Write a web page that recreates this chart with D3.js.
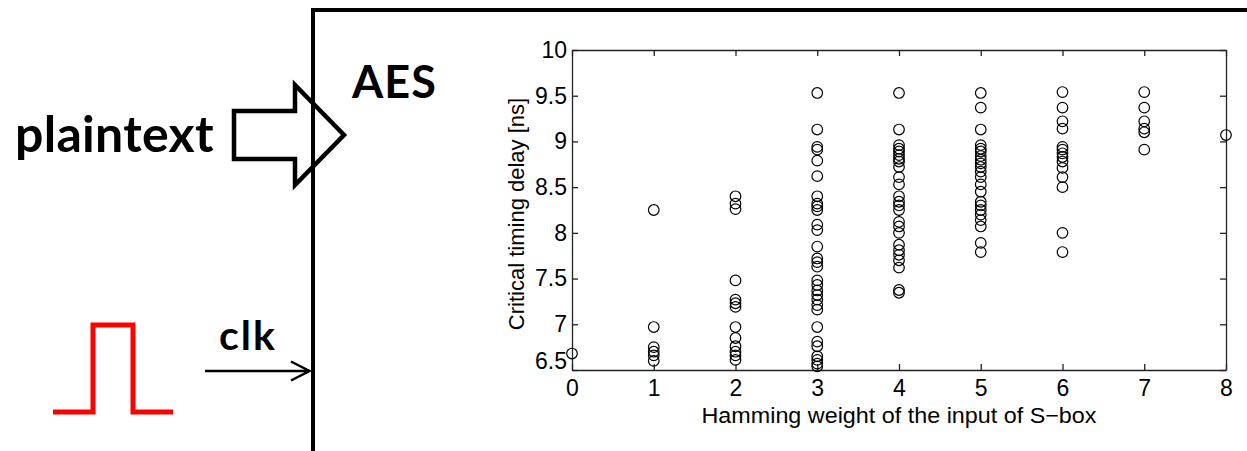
<!DOCTYPE html>
<html>
<head>
<meta charset="utf-8">
<script src="https://cdn.jsdelivr.net/npm/d3@7"></script>
<style>
  html, body { margin: 0; padding: 0; background: #fff; }
  svg { display: block; }
  .diagram-label { font-family: Lato, "Open Sans", sans-serif; font-weight: 700; fill: #000; }
  .axis text { font-family: "Liberation Sans", Arial, sans-serif; font-size: 23px; fill: #000; }
  .axis path, .axis line { stroke: #222; stroke-width: 1.3; }
  .axis-title { font-family: "Liberation Sans", Arial, sans-serif; font-size: 22px; fill: #000; }
</style>
</head>
<body>
<svg id="chart" width="1247" height="451"></svg>
<script>
// Hamming weight classes of the S-box input
const hammingWeights = [0, 1, 2, 3, 4, 5, 6, 7, 8];

// Critical timing delay [ns] observed for each Hamming weight
const delaysHW0 = [6.68];
const delaysHW1 = [8.25, 6.97, 6.75, 6.70, 6.66, 6.60];
const delaysHW2 = [8.40, 8.32, 8.26, 7.48, 7.27, 7.23, 7.19, 6.97, 6.85, 6.76, 6.70, 6.66, 6.61];
const delaysHW3 = [9.53, 9.13, 8.94, 8.91, 8.79, 8.62, 8.40, 8.32, 8.29, 8.25, 8.09, 8.03, 7.85,
                   7.72, 7.68, 7.63, 7.48, 7.43, 7.37, 7.32, 7.27, 7.21, 7.16, 6.97, 6.81, 6.76,
                   6.65, 6.61, 6.57, 6.54];
const delaysHW4 = [9.53, 9.13, 8.96, 8.92, 8.89, 8.85, 8.81, 8.78, 8.72, 8.61, 8.53, 8.40, 8.34,
                   8.30, 8.25, 8.12, 8.07, 8.00, 7.87, 7.81, 7.76, 7.70, 7.62, 7.375, 7.345];
const delaysHW5 = [9.53, 9.37, 9.13, 8.96, 8.92, 8.89, 8.84, 8.80, 8.76, 8.72, 8.67, 8.61, 8.53,
                   8.45, 8.34, 8.30, 8.25, 8.20, 8.14, 8.07, 7.89, 7.79];
const delaysHW6 = [9.54, 9.37, 9.22, 9.14, 8.94, 8.91, 8.87, 8.83, 8.78, 8.71, 8.61, 8.50, 8.00, 7.79];
const delaysHW7 = [9.54, 9.37, 9.22, 9.14, 9.10, 8.91];
const delaysHW8 = [9.07];

// Axis ticks
const xTicks = [0, 1, 2, 3, 4, 5, 6, 7, 8];
const yTicks = [6.5, 7, 7.5, 8, 8.5, 9, 9.5, 10];

const delaysByWeight = [delaysHW0, delaysHW1, delaysHW2, delaysHW3, delaysHW4,
                        delaysHW5, delaysHW6, delaysHW7, delaysHW8];
const points = hammingWeights.flatMap((hw, i) => delaysByWeight[i].map(d => ({ hw, d })));

const svg = d3.select("#chart");

// ---------- block diagram: AES core with plaintext and clock inputs ----------
const diagram = svg.append("g");

// clock waveform
diagram.append("path")
  .attr("d", d3.line()([[53, 412], [93, 412], [93, 325], [133, 325], [133, 412], [173, 412]]))
  .attr("fill", "none")
  .attr("stroke", "#ff0000")
  .attr("stroke-width", 5)
  .attr("stroke-linejoin", "miter");

// plaintext block arrow
diagram.append("path")
  .attr("d", d3.line()([[234, 111], [295, 111], [295, 85], [344, 135], [295, 185], [295, 159], [234, 159]]) + "Z")
  .attr("fill", "#fff")
  .attr("stroke", "#000")
  .attr("stroke-width", 4.5)
  .attr("stroke-linejoin", "miter");

// AES block outline
diagram.append("path")
  .attr("d", "M313,451V10H1247")
  .attr("fill", "none")
  .attr("stroke", "#000")
  .attr("stroke-width", 4);

// clock input arrow
diagram.append("path")
  .attr("d", "M205,371H309M291,361.5L309.5,371L291,380.5")
  .attr("fill", "none")
  .attr("stroke", "#000")
  .attr("stroke-width", 2.5);

diagram.append("text").attr("class", "diagram-label")
  .attr("x", 15).attr("y", 152).attr("font-size", 50).attr("letter-spacing", 0.3).text("plaintext");
diagram.append("text").attr("class", "diagram-label")
  .attr("x", 352).attr("y", 98).attr("font-size", 45).attr("letter-spacing", 1).text("AES");
diagram.append("text").attr("class", "diagram-label")
  .attr("x", 219).attr("y", 350).attr("font-size", 41).attr("letter-spacing", 2).text("clk");

// ---------- scatter plot ----------
const plot = { left: 572, right: 1226, top: 50, bottom: 370 };

const x = d3.scaleLinear().domain([0, 8]).range([plot.left, plot.right]);
const y = d3.scaleLinear().domain([6.5, 10]).range([plot.bottom, plot.top]);

const tickLen = 6;

// bottom axis with labels
svg.append("g").attr("class", "axis")
  .attr("transform", `translate(0,${plot.bottom})`)
  .call(d3.axisBottom(x).tickValues(xTicks).tickFormat(d3.format("d"))
    .tickSizeInner(-tickLen).tickSizeOuter(0).tickPadding(10));

// top axis, ticks only
svg.append("g").attr("class", "axis")
  .attr("transform", `translate(0,${plot.top})`)
  .call(d3.axisTop(x).tickValues(xTicks).tickFormat("")
    .tickSizeInner(-tickLen).tickSizeOuter(0));

// left axis with labels
const gy = svg.append("g").attr("class", "axis")
  .attr("transform", `translate(${plot.left},0)`)
  .call(d3.axisLeft(y).tickValues(yTicks).tickFormat(d => String(d))
    .tickSizeInner(-tickLen).tickSizeOuter(0).tickPadding(5));
// lowest label sits just above the corner so it clears the "0"
gy.selectAll(".tick text").filter(d => d === 6.5).attr("dy", "-0.05em");

// right axis, ticks only
svg.append("g").attr("class", "axis")
  .attr("transform", `translate(${plot.right},0)`)
  .call(d3.axisRight(y).tickValues(yTicks).tickFormat("")
    .tickSizeInner(-tickLen).tickSizeOuter(0));

svg.selectAll(".axis .domain").attr("stroke", "#222");

// data markers
svg.append("g")
  .selectAll("circle")
  .data(points)
  .join("circle")
  .attr("cx", p => x(p.hw))
  .attr("cy", p => y(p.d))
  .attr("r", 5.3)
  .attr("fill", "none")
  .attr("stroke", "#000")
  .attr("stroke-width", 1.2);

// axis titles
svg.append("text").attr("class", "axis-title")
  .attr("x", 899).attr("y", 423)
  .attr("text-anchor", "middle")
  .attr("textLength", 395).attr("lengthAdjust", "spacingAndGlyphs")
  .text("Hamming weight of the input of S\u2212box");

svg.append("text").attr("class", "axis-title")
  .attr("transform", "translate(524,214) rotate(-90)")
  .attr("text-anchor", "middle")
  .text("Critical timing delay [ns]");
</script>
</body>
</html>
